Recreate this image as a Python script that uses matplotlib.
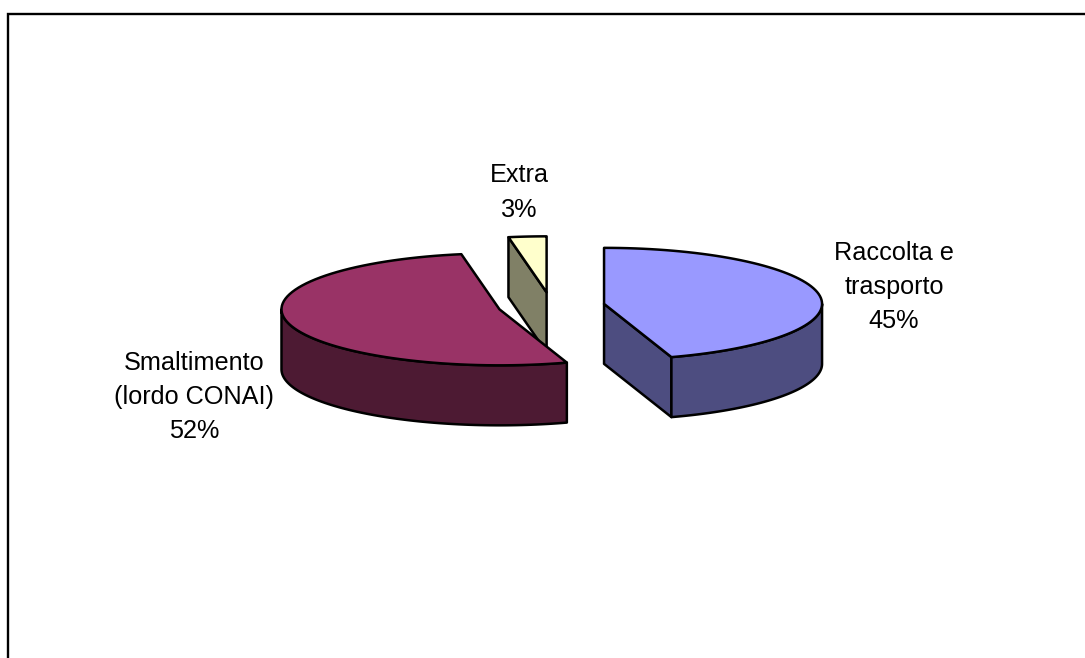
import numpy as np
import matplotlib
matplotlib.use("Agg")
import matplotlib.pyplot as plt
from matplotlib.patches import Polygon

labels = ["Raccolta e\ntrasporto\n45%", "Smaltimento\n(lordo CONAI)\n52%", "Extra\n3%"]
values = [45, 52.2, 2.8]
top_colors = ["#9999FF", "#993366", "#FFFFCC"]
side_colors = ["#4D4D80", "#4D1A33", "#808066"]
label_xy = [(894, 287), (194, 397), (519.5, 192.5)]

W, H = 1085, 658
CX, CY, A, B, DEPTH, EXPLODE = 551.3, 306, 218, 56, 60, 0.245
LW = 1.8

plt.rcParams['font.family'] = ['Liberation Sans', 'DejaVu Sans']
fig = plt.figure(figsize=(W / 100, H / 100), dpi=100, facecolor="white")
ax = fig.add_axes([0, 0, 1, 1])
ax.set_xlim(0, W)
ax.set_ylim(H, 0)
ax.axis("off")

ax.plot([8, 8, W + 5], [H + 5, 14, 14], color="black", lw=1.7, solid_joinstyle="miter")


def pt(cx, cy, deg):
    t = np.radians(deg)
    return np.array([cx + A * np.sin(t), cy - B * np.cos(t)])


def arc(cx, cy, d0, d1, n=80):
    t = np.radians(np.linspace(d0, d1, n))
    return np.column_stack([cx + A * np.sin(t), cy - B * np.cos(t)])


def poly(points, color):
    ax.add_patch(Polygon(points, closed=True, fc=color, ec="black", lw=LW, joinstyle="round"))


total = sum(values)
edges = np.concatenate([[0], np.cumsum(values)]) * 360 / total
wedges = []
for i in range(len(values)):
    d0, d1 = edges[i], edges[i + 1]
    mid = np.radians((d0 + d1) / 2)
    cx = CX + EXPLODE * A * np.sin(mid)
    cy = CY - EXPLODE * B * np.cos(mid)
    wedges.append((i, d0, d1, cx, cy))

# back to front: Extra, Smaltimento, Raccolta
for i, d0, d1, cx, cy in [wedges[2], wedges[1], wedges[0]]:
    c = np.array([cx, cy])
    if i == 2:
        p = pt(cx, cy, d0)
        poly([p, c, c + [0, DEPTH], p + [0, DEPTH]], side_colors[i])
    if i == 0:
        p = pt(cx, cy, d1)
        poly([c, p, p + [0, DEPTH], c + [0, DEPTH]], side_colors[i])
    lo, hi = max(d0, 90), min(d1, 270)
    if lo < hi:
        a = arc(cx, cy, lo, hi)
        poly(np.vstack([a, (a + [0, DEPTH])[::-1]]), side_colors[i])
    poly(np.vstack([[cx, cy], arc(cx, cy, d0, d1)]), top_colors[i])

for text, (x, y) in zip(labels, label_xy):
    ax.text(x, y, text, ha="center", va="center", fontsize=18.2, color="black", linespacing=1.55)

fig.savefig("out.png", dpi=100, facecolor="white")
